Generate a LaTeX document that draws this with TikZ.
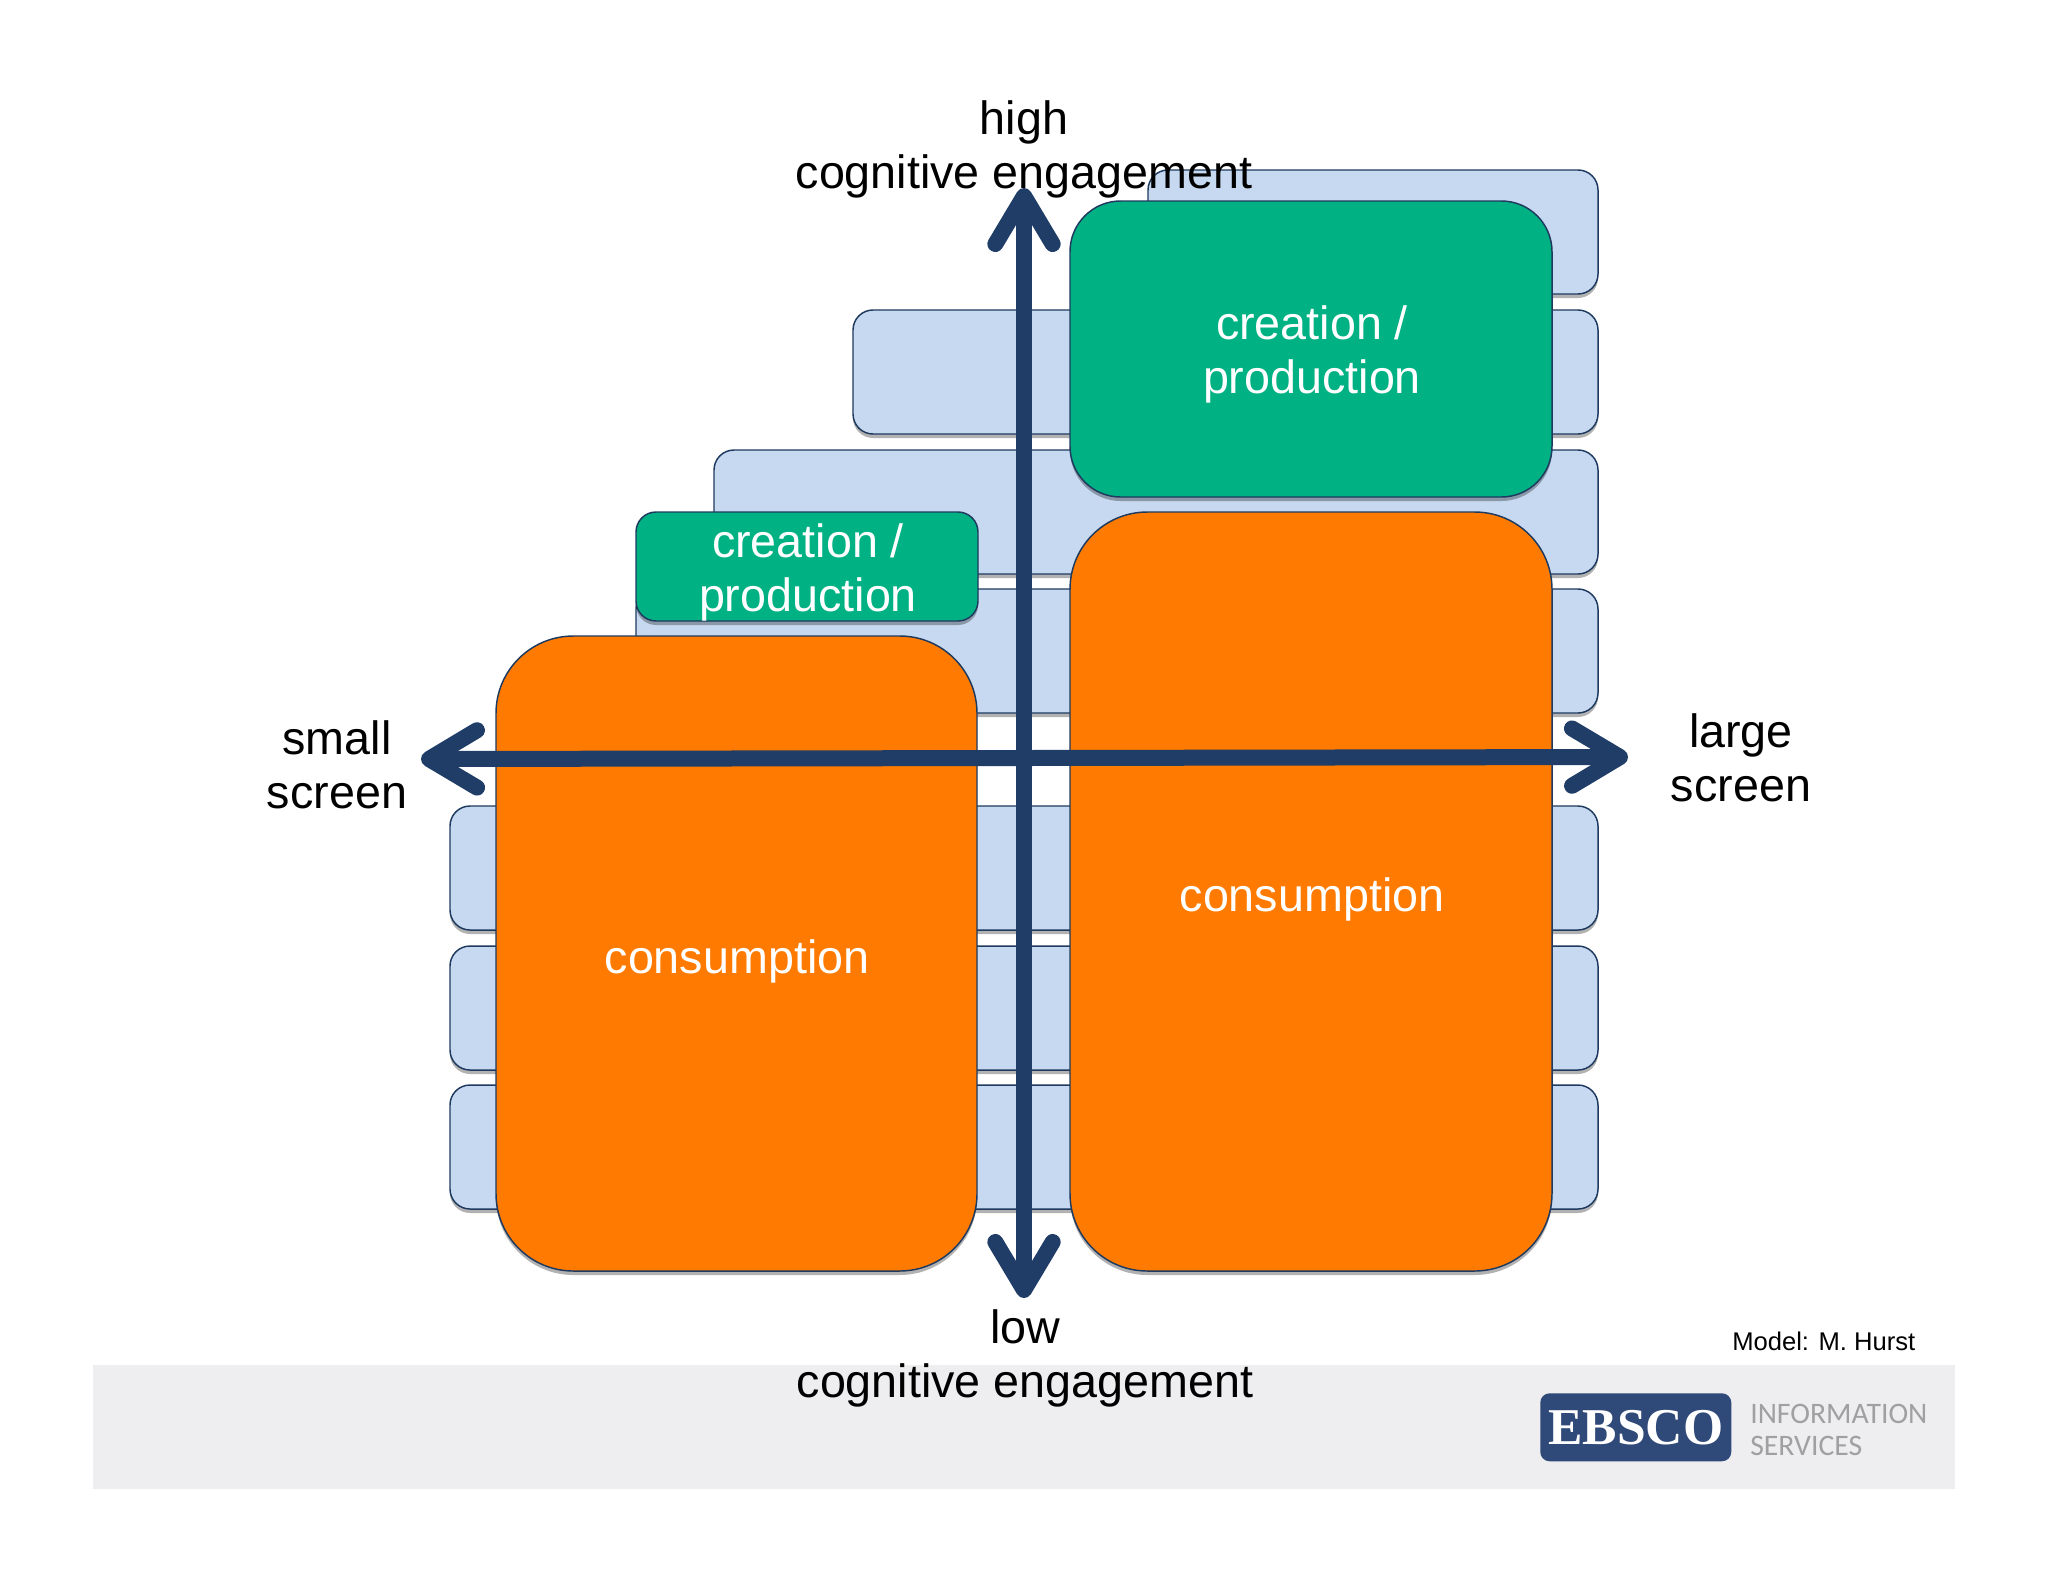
\documentclass[tikz,border=0pt]{standalone}
\usepackage{fontspec}
\setmainfont{Liberation Sans}
\newfontfamily\logofont{Liberation Serif}
\newfontfamily\infofont{Carlito}
\usetikzlibrary{arrows.meta,shadows}
\definecolor{rowblue}{RGB}{199,217,240}
\definecolor{edgeblue}{RGB}{30,58,95}
\definecolor{axisblue}{RGB}{31,61,102}
\definecolor{makegreen}{RGB}{0,177,132}
\definecolor{useorange}{RGB}{255,122,0}
\definecolor{bandgrey}{RGB}{238,237,239}
\definecolor{logoblue}{RGB}{47,73,120}
\definecolor{infogrey}{RGB}{160,160,163}
\tikzset{
	boxw/.style={minimum width=#1*0.75pt},
	boxh/.style={minimum height=#1*0.75pt},
	block/.style={rectangle,anchor=north west,inner sep=0pt,outer sep=0pt,draw=edgeblue,line width=1.1pt,
		drop shadow={shadow xshift=0pt,shadow yshift=-3pt,fill=black,opacity=0.3}},
	rowbox/.style={block,fill=rowblue,rounded corners=15pt,boxh=124},
	makebox/.style={block,fill=makegreen},
	usebox/.style={block,fill=useorange,rounded corners=58pt},
	axislabel/.style={inner sep=0pt,align=center,font=\fontsize{35}{40.6}\selectfont},
	boxlabel/.style={axislabel,text=white},
	axis/.style={draw=axisblue,line width=12pt,{Straight Barb[round,length=36pt,width=43pt]}-{Straight Barb[round,length=36pt,width=43pt]}},
}
\begin{document}
\begin{tikzpicture}[x=0.75pt,y=0.75pt,yscale=-1,xscale=1]
	\useasboundingbox (0,0) rectangle (2048,1582);

	% Footer band
	\node (band) [anchor=north west,inner sep=0pt,fill=bandgrey,boxw=1862,boxh=124] at (93,1365) {};

	% Text Node
	\node (row1) [rowbox,boxw=450] at (1148,170) {};
	\node (row2) [rowbox,boxw=745] at (853,310) {};
	\node (row3) [rowbox,boxw=884] at (714,450) {};
	\node (row4) [rowbox,boxw=962] at (636,589) {};
	\node (row5) [rowbox,boxw=1148] at (450,806) {};
	\node (row6) [rowbox,boxw=1148] at (450,946) {};
	\node (row7) [rowbox,boxw=1148] at (450,1085) {};

	% Text Node
	\node (makeSmall) [makebox,rounded corners=15pt,boxw=342,boxh=109] at (636,512) {};
	\node (makeLarge) [makebox,rounded corners=38pt,boxw=482,boxh=296] at (1070,201) {};
	\node (useSmall) [usebox,boxw=481,boxh=635] at (496,636) {};
	\node (useLarge) [usebox,boxw=482,boxh=759] at (1070,512) {};
	\node (makeSmallText) [boxlabel] at (808,572) {creation /\\production};
	\node (makeLargeText) [boxlabel] at (1312,354) {creation /\\production};
	\node (useSmallText) [boxlabel] at (737,961) {consumption};
	\node (useLargeText) [boxlabel] at (1312,899) {consumption};

	% Connection
	\coordinate (top) at (1024,188);
	\coordinate (bottom) at (1024,1298);
	\coordinate (left) at (421,759);
	\coordinate (right) at (1628,757);
	\draw [axis] (top) -- (bottom);
	\draw [axis,preaction={draw=black,opacity=0.22,-,shorten <=60pt,shorten >=60pt,transform canvas={yshift=-3pt}}] (left) -- (right);

	% Text Node
	\node (high) [axislabel] at (1024,149) {high\\cognitive engagement};
	\node (low) [axislabel] at (1025,1358) {low\\cognitive engagement};
	\node (small) [axislabel] at (337,765) {small\\screen};
	\node (large) [axislabel] at (1741,758) {large\\screen};
	\node (model) [anchor=west,inner sep=0pt,font=\fontsize{19.2}{24}\selectfont] at (1732,1341) {Model: M. Hurst};

	% Logo
	\node (logo) [anchor=north west,inner sep=0pt,fill=logoblue,rounded corners=7pt,boxw=191,boxh=68,text=white,font=\logofont\bfseries\fontsize{38.7}{44}\selectfont] at (1540,1393) {EBSCO};
	\node (info) [anchor=west,inner sep=0pt,align=left,text=infogrey,font=\infofont\fontsize{22.3}{24}\selectfont] at (1750,1430) {INFORMATION\\SERVICES};

\end{tikzpicture}
\end{document}
